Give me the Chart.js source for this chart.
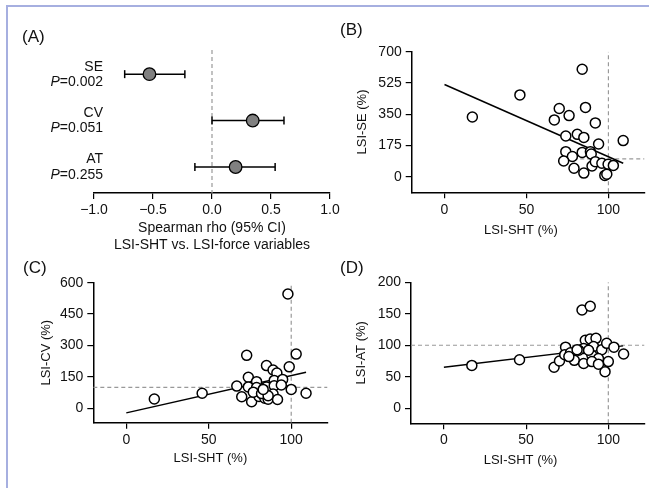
<!DOCTYPE html>
<html>
<head>
<meta charset="utf-8">
<script src="https://cdn.jsdelivr.net/npm/chart.js@4.4.1/dist/chart.umd.min.js"></script>
<style>
  html, body { margin: 0; padding: 0; background: #fff; width: 649px; height: 488px; overflow: hidden; }
  #frame { position: absolute; left: 6px; top: 5px; width: 700px; height: 600px;
           border-left: 2px solid #a6afe0; border-top: 2px solid #a6afe0; }
  canvas { position: absolute; }
  .panel { position: absolute; font: 17px 'Liberation Sans', Arial, sans-serif; color: #111; line-height: 20px; }
</style>
</head>
<body>
<div id="frame"></div>
<canvas id="chartA" width="345" height="256" style="left:0;top:0"></canvas>
<canvas id="chartB" width="316" height="246" style="left:335px;top:0"></canvas>
<canvas id="chartC" width="334" height="232" style="left:0;top:240px"></canvas>
<canvas id="chartD" width="316" height="232" style="left:335px;top:240px"></canvas>
<div class="panel" style="left:22px;top:27px">(A)</div>
<div class="panel" style="left:340px;top:20px">(B)</div>
<div class="panel" style="left:23px;top:258px">(C)</div>
<div class="panel" style="left:340px;top:258px">(D)</div>
<script>
const FONT = "'Liberation Sans', Arial, sans-serif";

// (A) spearman rho with 95% CI
const rhoVars = ['SE', 'CV', 'AT'];
const rhoPValues = ['0.002', '0.051', '0.255'];
const rhoEst = [-0.53, 0.345, 0.20];
const rhoLow = [-0.74, 0.00, -0.145];
const rhoHigh = [-0.23, 0.61, 0.535];

// (B) LSI-SHT vs LSI-SE
const shtSE = [17, 46, 84, 70, 76, 67, 86, 92, 74, 81, 85, 94, 109, 74, 78, 84, 89, 89.5, 72.7, 79, 85, 90, 92, 96, 99.8, 103, 97.8, 99];
const lsiSE = [334, 458, 602, 382, 342, 318, 388, 301, 228, 237, 220, 183, 202, 140, 113, 136, 140, 127, 88, 47, 20, 60, 84, 75, 69, 63, 7, 14];

// (C) LSI-SHT vs LSI-CV
const shtCV = [17, 46, 98, 73, 103, 85, 89, 91.3, 98.8, 74, 79, 89.7, 94.8, 67, 74, 79, 85, 89.7, 94, 100, 109, 70, 76, 80.5, 84, 86, 89, 91.7, 77, 82, 86, 83];
const lsiCV = [44, 72, 546, 253, 259, 204, 183, 168, 198, 148, 127, 133, 138, 106, 102, 99, 102, 108, 111, 90, 72, 55, 31, 56, 48, 43, 68, 42, 77, 70, 60, 90];

// (D) LSI-SHT vs LSI-AT
const shtAT = [17, 46, 84, 89, 67, 70.3, 74, 73.5, 77, 79.3, 85, 86, 89, 92.5, 85, 82, 91, 96, 99, 103.4, 109.3, 100, 98, 90, 94, 90, 94, 76, 81, 88];
const lsiAT = [68, 77, 156, 162, 65, 75, 97, 85, 88, 76, 71, 108, 110, 111, 95, 92, 98, 93, 103, 97, 86, 74, 58, 84, 79, 74, 70, 82, 93, 92];

// regression lines (ends)
const fitX = [0, 109];
const seFit = [516, 75];
const cvFit = [-22, 172];
const atFit = [65, 99];

// ticks
const rhoTicks = [-1, -0.5, 0, 0.5, 1];
const shtTicks = [0, 50, 100];
const seTicks = [0, 175, 350, 525, 700];
const cvTicks = [0, 150, 300, 450, 600];
const atTicks = [0, 50, 100, 150, 200];

const X_MIN = -20, X_MAX = 122;
const REF = 100;

Chart.defaults.font.family = FONT;
Chart.defaults.color = '#111';

const tickFont = {family: FONT, size: 14};
const titleFont = {family: FONT, size: 13};
const dashed = {showLine: true, pointRadius: 0, borderColor: '#999', borderWidth: 1.2, borderDash: [4, 3]};

// labels left of the forest plot rows
const rowLabels = {
  id: 'rowLabels',
  afterDraw(chart) {
    const {ctx, chartArea, scales} = chart;
    const x = chartArea.left + 9;
    ctx.save();
    ctx.fillStyle = '#111';
    ctx.textAlign = 'right';
    ctx.textBaseline = 'middle';
    rhoVars.forEach((name, i) => {
      const y = scales.y.getPixelForValue(i);
      ctx.font = '14px ' + FONT;
      ctx.fillText(name, x, y - 7.5);
      const rest = '=' + rhoPValues[i];
      ctx.fillText(rest, x, y + 8);
      const w = ctx.measureText(rest).width;
      ctx.font = 'italic 14px ' + FONT;
      ctx.fillText('P', x - w, y + 8);
    });
    ctx.restore();
  }
};

new Chart(document.getElementById('chartA'), {
  type: 'scatter',
  data: {
    datasets: [
      {
        data: rhoEst.map((x, i) => ({x, y: i})),
        pointRadius: 6.3,
        pointBackgroundColor: '#808080',
        pointBorderColor: '#000',
        pointBorderWidth: 1.3
      },
      ...rhoEst.map((_, i) => ({
        data: [{x: rhoLow[i], y: i}, {x: rhoHigh[i], y: i}],
        showLine: true,
        borderColor: '#000',
        borderWidth: 1.5,
        pointStyle: 'line',
        pointRotation: 90,
        pointRadius: 4,
        pointBorderColor: '#000',
        pointBorderWidth: 1.5
      })),
      {...dashed, data: [{x: 0, y: -0.52}, {x: 0, y: 2.56}]}
    ]
  },
  options: {
    responsive: false,
    animation: false,
    layout: {padding: {left: 94, right: 15, top: 50, bottom: 1.75}},
    plugins: {legend: {display: false}, tooltip: {enabled: false}},
    scales: {
      x: {
        type: 'linear', min: -1, max: 1,
        afterBuildTicks: a => { a.ticks = rhoTicks.map(v => ({value: v})); },
        afterFit: a => { a.height = 61.25; },
        grid: {drawOnChartArea: false, tickLength: 6, color: '#000', lineWidth: 1.2},
        border: {color: '#000', width: 1.5},
        ticks: {
          font: tickFont, color: '#111', padding: 3,
          callback: v => (v < 0 ? '\u2212' : '') + Math.abs(v).toFixed(1)
        },
        title: {
          display: true,
          text: ['Spearman rho (95% CI)', 'LSI-SHT vs. LSI-force variables'],
          font: {family: FONT, size: 14, lineHeight: 1.25},
          color: '#111',
          padding: {top: 0, bottom: 0}
        }
      },
      y: {type: 'linear', display: false, reverse: true, min: -0.52, max: 2.56}
    }
  },
  plugins: [rowLabels]
});

function scatterPanel(id, p) {
  new Chart(document.getElementById(id), {
    type: 'scatter',
    data: {
      datasets: [
        {
          data: p.xs.map((x, i) => ({x, y: p.ys[i]})),
          pointRadius: 5,
          pointBorderWidth: 1.5,
          pointBackgroundColor: '#fff',
          pointBorderColor: '#000'
        },
        {
          data: fitX.map((x, i) => ({x, y: p.fit[i]})),
          showLine: true, pointRadius: 0, borderColor: '#000', borderWidth: 1.5
        },
        {...dashed, data: [{x: REF, y: p.yMin}, {x: REF, y: p.yMax}]},
        {...dashed, data: [{x: p.hFrom, y: REF}, {x: X_MAX, y: REF}]}
      ]
    },
    options: {
      responsive: false,
      animation: false,
      layout: {padding: p.pad},
      plugins: {legend: {display: false}, tooltip: {enabled: false}},
      scales: {
        x: {
          type: 'linear', min: X_MIN, max: X_MAX,
          afterBuildTicks: a => { a.ticks = shtTicks.map(v => ({value: v})); },
          afterFit: a => { a.height = 46; },
          grid: {drawOnChartArea: false, tickLength: 6, color: '#000', lineWidth: 1.2},
          border: {color: '#000', width: 1.5},
          ticks: {font: tickFont, color: '#111', padding: p.xTickPad},
          title: {display: true, text: p.xTitle, font: titleFont, color: '#111',
                  padding: {top: 0, bottom: p.xTitlePad}}
        },
        y: {
          type: 'linear', min: p.yMin, max: p.yMax,
          afterBuildTicks: a => { a.ticks = p.yTicks.map(v => ({value: v})); },
          afterFit: a => { a.width = p.yWidth; },
          grid: {drawOnChartArea: false, tickLength: 6, color: '#000', lineWidth: 1.2},
          border: {color: '#000', width: 1.5},
          ticks: {font: tickFont, color: '#111', padding: 4},
          title: {display: true, text: p.yTitle, font: titleFont, color: '#111',
                  padding: {top: p.yTitlePad, bottom: 0}}
        }
      }
    }
  });
}

scatterPanel('chartB', {
  xs: shtSE, ys: lsiSE, fit: seFit, yTicks: seTicks, yMin: -87.5, yMax: 700, hFrom: 70,
  yTitle: 'LSI-SE (%)', xTitle: 'LSI-SHT (%)    ',
  pad: {left: 10, right: 0, top: 51.7, bottom: 7.7},
  yWidth: 66.7, yTitlePad: 9.2, xTickPad: 3.3, xTitlePad: 0.5
});

scatterPanel('chartC', {
  xs: shtCV, ys: lsiCV, fit: cvFit, yTicks: cvTicks, yMin: -69, yMax: 600, hFrom: X_MIN,
  yTitle: 'LSI-CV (%)', xTitle: 'LSI-SHT (%)',
  pad: {left: 30, right: 0, top: 42.7, bottom: 3.3},
  yWidth: 63.3, yTitlePad: 8.9, xTickPad: 2.9, xTitlePad: 2.6
});

scatterPanel('chartD', {
  xs: shtAT, ys: lsiAT, fit: atFit, yTicks: atTicks, yMin: -24, yMax: 200, hFrom: X_MIN,
  yTitle: 'LSI-AT (%)', xTitle: 'LSI-SHT (%)    ',
  pad: {left: 10, right: 0, top: 42.3, bottom: 2.7},
  yWidth: 66, yTitlePad: 8.9, xTickPad: 2.3, xTitlePad: 1.5
});
</script>
</body>
</html>
